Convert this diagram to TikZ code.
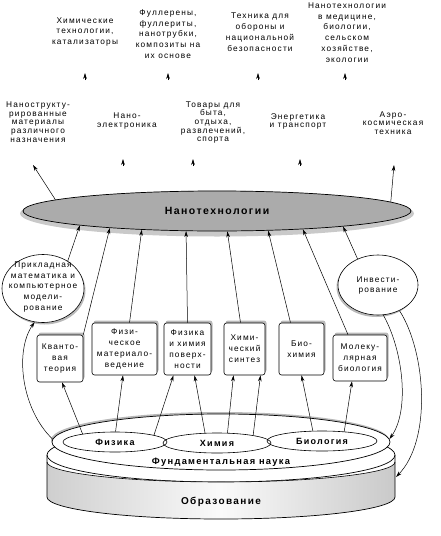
\documentclass[tikz,border=0pt]{standalone}
\usepackage{fontspec}
\setmainfont{Liberation Sans}[LetterSpace=14]
\usetikzlibrary{arrows.meta,shapes.geometric,shadows}
\begin{document}
\begin{tikzpicture}[x=1pt,y=-1pt,
  txt/.style={align=center,inner sep=0pt,font=\fontsize{8.3}{10.8}\selectfont},
  txtb/.style={align=center,inner sep=0pt,font=\fontsize{8.3}{8.7}\selectfont},
  arr/.style={-{Stealth[length=6pt,width=3.6pt]},line width=0.5pt},
  boxn/.style={draw,line width=0.6pt,fill=white,rounded corners=2.5pt,align=center,inner sep=0pt,
    font=\fontsize{8.3}{11}\selectfont,
    drop shadow={shadow xshift=1.5pt,shadow yshift=2.5pt,fill=gray!55,opacity=1}},
  circn/.style={draw,line width=0.6pt,fill=white,ellipse,inner sep=0pt},
  sell/.style={draw,line width=0.6pt,ellipse,inner sep=0pt,minimum height=20pt,
    font=\bfseries\fontsize{9}{10}\selectfont},
]
\useasboundingbox (0,0) rectangle (440,536);

% ---------- top row ----------
\node[txt] (a1) at (85,32) {Химические\\технологии,\\катализаторы};
\node[txt] (a2) at (168,34) {Фуллерены,\\фуллериты,\\нанотрубки,\\композиты на\\их основе};
\node[txt] (a3) at (260,32) {Техника для\\обороны и\\национальной\\безопасности};
\node[txt] (a4) at (347,32.5) {Нанотехнологии\\в медицине,\\биологии,\\сельском\\хозяйстве,\\экологии};

\coordinate (t1a) at (85,80);  \coordinate (t1b) at (85,73);
\coordinate (t2a) at (168,80); \coordinate (t2b) at (168,73);
\coordinate (t3a) at (258,80); \coordinate (t3b) at (258,73);
\coordinate (t4a) at (345,80); \coordinate (t4b) at (345,73);
\draw[arr] (t1a) -- (t1b);
\draw[arr] (t2a) -- (t2b);
\draw[arr] (t3a) -- (t3b);
\draw[arr] (t4a) -- (t4b);

% ---------- second row ----------
\node[txtb] (b1) at (38,122) {Нанострукту-\\рированные\\материалы\\различного\\назначения};
\node[txtb] (b2) at (127,121) {Нано-\\электроника};
\node[txtb] (b3) at (213,122.5) {Товары для\\быта,\\отдыха,\\развлечений,\\спорта};
\node[txtb] (b4) at (298,121.5) {Энергетика\\и транспорт};
\node[txtb] (b5) at (393,123) {Аэро-\\космическая\\техника};

\coordinate (s1a) at (123,166); \coordinate (s1b) at (123,159);
\coordinate (s2a) at (193,166); \coordinate (s2b) at (193,159);
\coordinate (s3a) at (300,166); \coordinate (s3b) at (300,159);
\draw[arr] (s1a) -- (s1b);
\draw[arr] (s2a) -- (s2b);
\draw[arr] (s3a) -- (s3b);

\coordinate (b1in) at (33,165);
\coordinate (b5in) at (394,165);

% ---------- nanotechnology ellipse ----------
\fill[gray!42] (217,213.5) ellipse [x radius=197, y radius=23];
\node[draw,line width=0.7pt,fill=gray!66,ellipse,minimum width=388pt,minimum height=40pt,inner sep=0pt,
  font=\bfseries\fontsize{10.5}{12}\selectfont] (nt) at (217,211) {Нанотехнологии};

\draw[arr] (nt.176.5) -- (b1in);
\draw[arr] (nt.3.4) -- (b5in);

% ---------- base: cylinder ----------
\draw[fill=white,line width=0.7pt] (221,455) ellipse [x radius=174, y radius=27];
\path[left color=gray!38,right color=gray!42,middle color=gray!4]
  (47,462) -- (47,497) arc[start angle=180,end angle=0,x radius=174,y radius=22]
  -- (395,462) arc[start angle=0,end angle=180,x radius=174,y radius=20] -- cycle;
\draw[line width=0.7pt] (47,455) -- (47,497) arc[start angle=180,end angle=0,x radius=174,y radius=22] -- (395,455);
\draw[line width=0.6pt] (47,462) arc[start angle=180,end angle=0,x radius=174,y radius=20];

\node[draw,line width=0.7pt,fill=white,ellipse,minimum width=338pt,minimum height=56pt,inner sep=0pt,
  drop shadow={shadow xshift=-1pt,shadow yshift=2pt,fill=gray!55,opacity=1}] (fund) at (221,442) {};

\node[sell,minimum width=104pt] (fiz) at (115,442) {Физика};
\node[sell,minimum width=108pt] (him) at (217,443) {Химия};
\node[sell,minimum width=110pt] (bio) at (322,441) {Биология};

\node[inner sep=0pt,font=\bfseries\fontsize{9.3}{11}\selectfont] (fl) at (221,462) {Фундаментальная наука};
\node[inner sep=0pt,font=\bfseries\fontsize{10}{12}\selectfont] (ol) at (221,502) {Образование};

% ---------- boxes ----------
\node[boxn,minimum width=46pt,minimum height=47pt] (kv) at (60,358.5) {Кванто-\\вая\\теория};
\node[boxn,minimum width=65pt,minimum height=52pt] (fm) at (124.5,349) {Физи-\\ческое\\материало-\\ведение};
\node[boxn,minimum width=47pt,minimum height=52pt] (fh) at (187.5,349) {Физика\\и химия\\поверх-\\ности};
\node[boxn,minimum width=41pt,minimum height=52pt] (hs) at (244.5,349) {Хими-\\ческий\\синтез};
\node[boxn,minimum width=45pt,minimum height=52pt] (bh) at (301.5,349) {Био-\\химия};
\node[boxn,minimum width=54pt,minimum height=46pt] (mb) at (360,358) {Молеку-\\лярная\\биология};

% ---------- circles ----------
\node[circn,minimum width=82pt,minimum height=68pt,
  drop shadow={shadow xshift=1.5pt,shadow yshift=-2pt,fill=gray!55,opacity=1}] (pm) at (43,288.5) {};
\node[txt] (pmt) at (43,287) {Прикладная\\математика и\\компьютерное\\модели-\\рование};
\node[circn,minimum width=80pt,minimum height=60pt,
  drop shadow={shadow xshift=-1.5pt,shadow yshift=-2pt,fill=gray!55,opacity=1}] (inv) at (378,285) {};
\node[txt] (invt) at (378,285.5) {Инвести-\\рование};

% ---------- arrows into nanotechnology ----------
\draw[arr] (pm.48) -- (nt.186.6);
\draw[arr] (kv.north east) -- (nt.189);
\draw[arr] ([xshift=5pt]fm.north) -- (nt.194);
\draw[arr] (fh.north) -- (nt.213);
\draw[arr] ([xshift=-4pt]hs.north) -- (nt.297);
\draw[arr] ([xshift=-11pt]bh.north) -- (nt.339);
\draw[arr] ([xshift=-12pt]mb.north) -- (nt.348.6);
\draw[arr] (inv.128) -- (nt.353);

% ---------- arrows from sciences to boxes ----------
\draw[arr] (fiz.166.8) -- ([xshift=2pt]kv.south);
\draw[arr] (fiz.87) -- ([xshift=-1.5pt]fm.south);
\draw[arr] (fiz.10.8) -- ([xshift=-14pt]fh.south);
\draw[arr] (him.140.9) -- ([xshift=7pt]fh.south);
\draw[arr] (him.44.5) -- ([xshift=-11pt]hs.south);
\draw[arr] (him.12.3) -- ([xshift=16pt]hs.south);
\draw[arr] (bio.132.4) -- (bh.south);
\draw[arr] (bio.23.7) -- ([xshift=-8pt]mb.south);

% ---------- curved arrows ----------
\coordinate (edR) at (396,477);
\draw[arr] (fund.179) .. controls (22,410) and (14,352) .. (pm.256);
\draw[arr] (inv.280) .. controls (403,350) and (410,410) .. (fund.1);
\draw[arr] (inv.310) .. controls (426,352) and (432,440) .. (edR);
\end{tikzpicture}
\end{document}
